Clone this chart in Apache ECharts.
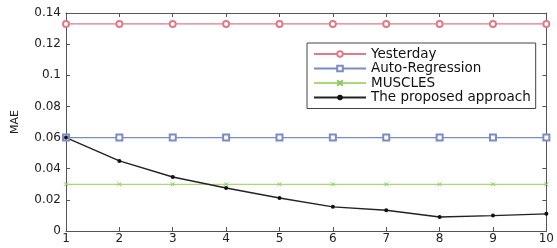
<!DOCTYPE html>
<html><head><meta charset="utf-8">
<script src="https://cdn.jsdelivr.net/npm/echarts@6/dist/echarts.min.js"></script>
<style>html,body{margin:0;padding:0;background:#fff}#c{width:557px;height:248px}</style>
</head><body><div id="c"></div>
<script>
const xValues = [1,2,3,4,5,6,7,8,9,10];
const yesterday = [0.133,0.133,0.133,0.133,0.133,0.133,0.133,0.133,0.133,0.133];
const autoRegression = [0.06,0.06,0.06,0.06,0.06,0.06,0.06,0.06,0.06,0.06];
const muscles = [0.03,0.03,0.03,0.03,0.03,0.03,0.03,0.03,0.03,0.03];
const proposed = [0.06,0.045,0.0347,0.0276,0.0212,0.0155,0.0133,0.009,0.0099,0.011];
const seriesNames = ['Yesterday','Auto-Regression','MUSCLES','The proposed approach'];

const xPath = 'path://M0,0L10,10M10,0L0,10';
const font = 'DejaVu Sans, Verdana, sans-serif';
const axisCol = '#555';
function pairs(v){ return xValues.map((x,i)=>[x,v[i]]); }

const chart = echarts.init(document.getElementById('c'));
const baseX = {type:'value',min:1,max:10,interval:1,
  axisLine:{show:true,onZero:false,lineStyle:{color:axisCol,width:1}},
  axisTick:{show:true,inside:true,length:4,lineStyle:{color:axisCol}},
  splitLine:{show:false}};
const baseY = {type:'value',min:0,max:0.14,interval:0.02,
  axisLine:{show:true,lineStyle:{color:axisCol,width:1}},
  axisTick:{show:true,inside:true,length:4,lineStyle:{color:axisCol}},
  splitLine:{show:false}};
chart.setOption({
  animation:false,
  backgroundColor:'#fff',
  grid:{left:66,right:10,top:13,bottom:17},
  xAxis:[
    Object.assign({},baseX,{position:'bottom',axisLabel:{color:'#222',fontSize:12,fontFamily:font,margin:2}}),
    Object.assign({},baseX,{position:'top',axisLabel:{show:false}})
  ],
  yAxis:[
    Object.assign({},baseY,{position:'left',name:'MAE',nameLocation:'middle',nameGap:45,
      nameTextStyle:{color:'#222',fontSize:11,fontFamily:font},
      axisLabel:{color:'#222',fontSize:12,fontFamily:font,margin:5}}),
    Object.assign({},baseY,{position:'right',axisLabel:{show:false}})
  ],
  legend:{orient:'vertical',left:307,top:43,width:229,
    backgroundColor:'#fff',borderColor:'#444',borderWidth:1,borderRadius:0,
    padding:[4,5,4,6],itemWidth:52,itemHeight:7,itemGap:0.5,
    textStyle:{color:'#111',fontSize:13.5,lineHeight:14,fontFamily:font},
    data:seriesNames},
  series:[
    {name:seriesNames[0],type:'line',data:pairs(yesterday),symbol:'emptyCircle',symbolSize:6,
      lineStyle:{color:'#e07a8a',width:1.2},itemStyle:{color:'#e07a8a',borderWidth:1}},
    {name:seriesNames[1],type:'line',data:pairs(autoRegression),symbol:'emptyRect',symbolSize:6,
      lineStyle:{color:'#7a8cc8',width:1.2},itemStyle:{color:'#7a8cc8',borderWidth:1}},
    {name:seriesNames[2],type:'line',data:pairs(muscles),symbol:xPath,symbolSize:4,
      lineStyle:{color:'#a8d878',width:1.2},itemStyle:{color:'#a8d878',borderColor:'#90c860',borderWidth:1}},
    {name:seriesNames[3],type:'line',data:pairs(proposed),symbol:'circle',symbolSize:4,
      lineStyle:{color:'#222',width:1.4},itemStyle:{color:'#111'}}
  ]
});
</script></body></html>
